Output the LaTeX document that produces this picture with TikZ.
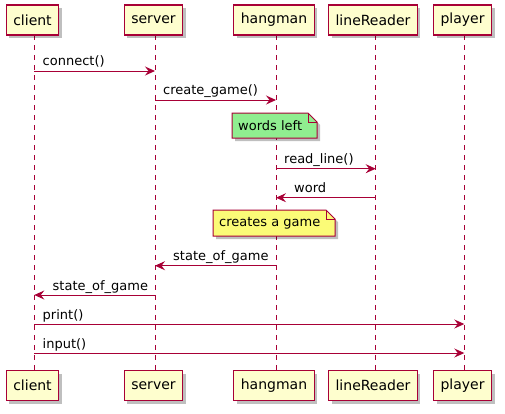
\documentclass[tikz,border=0pt]{standalone}
\usepackage{fontspec}
\setmainfont{DejaVu Sans}
\usetikzlibrary{arrows.meta,shadows}
\definecolor{pborder}{HTML}{A80036}
\definecolor{pfill}{HTML}{FEFECE}
\definecolor{ngreen}{HTML}{90EE90}
\definecolor{nyellow}{HTML}{FBFB77}
\begin{document}
\begin{tikzpicture}[x=1pt,y=-1pt,
 part/.style={draw=pborder, fill=pfill, line width=1.2pt, minimum height=30pt, inner xsep=7pt,
   font=\fontsize{14}{16}\selectfont,
   drop shadow={shadow xshift=3pt, shadow yshift=-3pt, opacity=0.25, fill=black}},
 life/.style={draw=pborder, dash pattern=on 5pt off 5pt, line width=0.9pt},
 msg/.style={draw=pborder, line width=1pt, -{Stealth[length=10pt,width=9pt,inset=3.5pt]}},
 lbl/.style={font=\fontsize{13}{15}\selectfont, inner sep=0pt, anchor=base west},
 notebox/.style={draw=pborder, line width=1pt},
 notetext/.style={font=\fontsize{13}{15}\selectfont, inner sep=0pt, anchor=west},
]
\useasboundingbox (0,0) rectangle (505,413);
% lifelines first
\coordinate (cx) at (34.3,0);
\coordinate (sx) at (155,0);
\coordinate (hx) at (276,0);
\coordinate (lx) at (375.7,0);
\coordinate (px) at (464.3,0);
\foreach \n in {c,s,h,l,p}{
  \draw[life] (\n x |- 0,35) -- (\n x |- 0,370);
}
% participants
\node[part] (ct) at (32.5,20) {client};
\node[part] (st) at (153.5,20) {server};
\node[part] (ht) at (274,20) {hangman};
\node[part] (lt) at (373,20) {lineReader};
\node[part] (pt) at (462.5,20) {player};
\node[part] (cb) at (32.5,385.5) {client};
\node[part] (sb) at (153.5,385.5) {server};
\node[part] (hb) at (274,385.5) {hangman};
\node[part] (lb) at (373,385.5) {lineReader};
\node[part] (pb) at (462.5,385.5) {player};
% messages
\draw[msg] (cx |- 0,71) -- (sx |- 0,71);
\node[lbl] (m1) at (42.5,65.5) {connect()};
\draw[msg] (sx |- 0,100) -- (hx |- 0,100);
\node[lbl] (m2) at (163,94.5) {create\_game()};
% note words left
\fill[black,opacity=0.25,shift={(3,3)}] (232,113) -- (308,113) -- (317,122) -- (317,138) -- (232,138) -- cycle;
\draw[notebox,fill=ngreen] (232,113) -- (308,113) -- (317,122) -- (317,138) -- (232,138) -- cycle;
\draw[notebox] (308,113) -- (308,122) -- (317,122);
\node[notetext] (n1) at (238,125.5) {words left};
\draw[msg] (hx |- 0,168.7) -- (lx |- 0,168.7);
\node[lbl] (m3) at (284,163.5) {read\_line()};
\draw[msg] (lx |- 0,197.7) -- (hx |- 0,197.7);
\node[lbl] (m4) at (294,192.7) {word};
% note creates a game
\fill[black,opacity=0.25,shift={(3,3)}] (213,210) -- (326,210) -- (335,219) -- (335,236) -- (213,236) -- cycle;
\draw[notebox,fill=nyellow] (213,210) -- (326,210) -- (335,219) -- (335,236) -- (213,236) -- cycle;
\draw[notebox] (326,210) -- (326,219) -- (335,219);
\node[notetext] (n2) at (219,223) {creates a game};
\draw[msg] (hx |- 0,265.7) -- (sx |- 0,265.7);
\node[lbl] (m5) at (173,260.5) {state\_of\_game};
\draw[msg] (sx |- 0,295) -- (cx |- 0,295);
\node[lbl] (m6) at (52.5,290) {state\_of\_game};
\draw[msg] (cx |- 0,324) -- (px |- 0,324);
\node[lbl] (m7) at (42.5,319) {print()};
\draw[msg] (cx |- 0,353) -- (px |- 0,353);
\node[lbl] (m8) at (42.5,348) {input()};
\end{tikzpicture}
\end{document}
